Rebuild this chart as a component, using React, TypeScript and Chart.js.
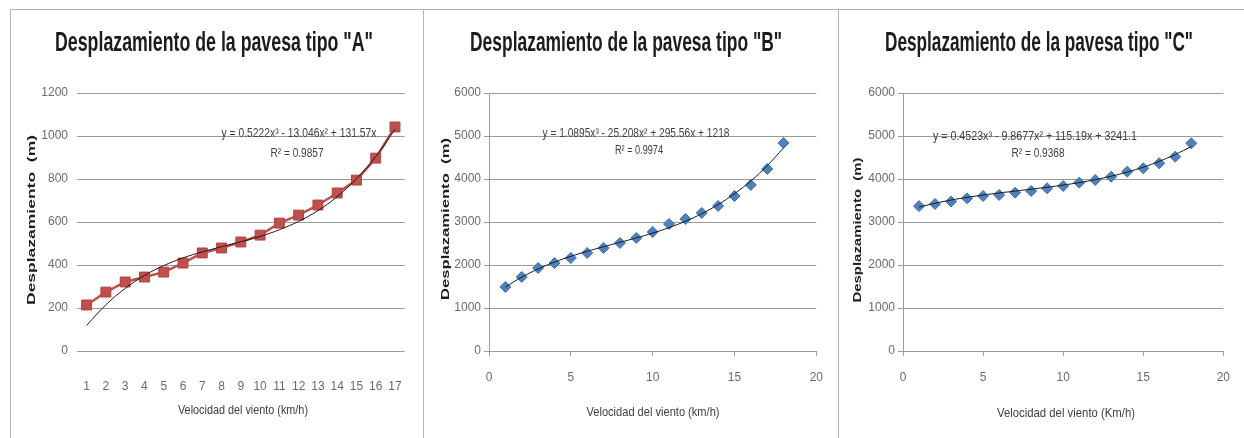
import React, { useEffect, useRef } from 'react';
import { Chart, registerables } from 'chart.js';

Chart.register(...registerables);

// ---------- data ----------
const titleA = 'Desplazamiento de la pavesa tipo "A"';
const titleB = 'Desplazamiento de la pavesa tipo "B"';
const titleC = 'Desplazamiento de la pavesa tipo "C"';
const yTitle = 'Desplazamiento  (m)';
const xTitleA = 'Velocidad del viento (km/h)';
const xTitleB = 'Velocidad del viento (km/h)';
const xTitleC = 'Velocidad del viento (Km/h)';

const eqA = 'y = 0.5222x³ - 13.046x² + 131.57x';
const r2A = 'R² = 0.9857';
const eqB = 'y = 1.0895x³ - 25.208x² + 295.56x + 1218';
const r2B = 'R² = 0.9974';
const eqC = 'y = 0.4523x³ - 9.8677x² + 115.19x + 3241.1';
const r2C = 'R² = 0.9368';

const speedsA = ['1', '2', '3', '4', '5', '6', '7', '8', '9', '10', '11', '12', '13', '14', '15', '16', '17'];
const dispA = [214, 274, 321, 344, 367, 409, 456, 479, 507, 539, 595, 632, 679, 735, 795, 897, 1042];
const trendA = [119, 215, 291, 351, 397, 433, 461, 485, 508, 533, 564, 603, 653, 718, 801, 904, 1032];

const speedsB = [1, 2, 3, 4, 5, 6, 7, 8, 9, 10, 11, 12, 13, 14, 15, 16, 17, 18];
const dispB = [1489, 1721, 1930, 2047, 2163, 2280, 2396, 2512, 2628, 2768, 2954, 3070, 3210, 3373, 3605, 3861, 4233, 4838];
const trendB = [1489, 1717, 1907, 2067, 2202, 2319, 2425, 2527, 2630, 2742, 2869, 3017, 3194, 3405, 3657, 3956, 4310, 4725];

const speedsC = [1, 2, 3, 4, 5, 6, 7, 8, 9, 10, 11, 12, 13, 14, 15, 16, 17, 18];
const dispC = [3370, 3420, 3475, 3550, 3605, 3630, 3683, 3720, 3783, 3837, 3915, 3977, 4054, 4171, 4249, 4365, 4520, 4830];
const trendC = [3347, 3436, 3510, 3573, 3627, 3675, 3719, 3763, 3808, 3859, 3916, 3984, 4065, 4161, 4275, 4411, 4570, 4755];

const yTicksA = { min: 0, max: 1200, step: 200 };
const yTicksBC = { min: 0, max: 6000, step: 1000 };
const xTicksBC = { min: 0, max: 20, step: 5 };

// ---------- styles ----------
const NARROW = "'Liberation Sans Narrow', 'Liberation Sans', sans-serif";
const gridColor = '#9a9a9a';
const tickColor = '#6a6a6a';
const tickFont = { family: NARROW, size: 12 };
const plain = (v: any) => String(v);

type TextItem = {
  text: string; x: number; y: number; font: string; color: string; width?: number; rotate?: boolean;
};

function overlay(items: TextItem[]) {
  return {
    id: 'overlayText',
    afterDraw(chart: any) {
      const ctx = chart.ctx as CanvasRenderingContext2D;
      for (const it of items) {
        ctx.save();
        ctx.font = it.font;
        ctx.fillStyle = it.color;
        ctx.textAlign = 'center';
        ctx.textBaseline = 'middle';
        ctx.translate(it.x, it.y);
        if (it.rotate) ctx.rotate(-Math.PI / 2);
        if (it.width) {
          const w = ctx.measureText(it.text).width;
          ctx.scale(it.width / w, 1);
        }
        ctx.fillText(it.text, 0, 0);
        ctx.restore();
      }
    },
  };
}

function panelTexts(p: {
  title: string; titleX: number; titleW: number;
  yx: number; yy: number; yw: number;
  xt: string; xtx: number; xty: number; xtw: number;
  eq: string; eqx: number; eqy: number; eqw: number;
  r2: string; r2x: number; r2y: number; r2w: number;
}): TextItem[] {
  return [
    { text: p.title, x: p.titleX, y: 34, font: `bold 27px 'Liberation Sans', sans-serif`, color: '#1c1c1c', width: p.titleW },
    { text: yTitle, x: p.yx, y: p.yy, font: `bold 11px 'Liberation Sans', sans-serif`, color: '#1e1e1e', width: p.yw, rotate: true },
    { text: p.xt, x: p.xtx, y: p.xty, font: `13px ${NARROW}`, color: '#404040', width: p.xtw },
    { text: p.eq, x: p.eqx, y: p.eqy, font: `13px ${NARROW}`, color: '#404040', width: p.eqw },
    { text: p.r2, x: p.r2x, y: p.r2y, font: `13px ${NARROW}`, color: '#404040', width: p.r2w },
  ];
}

function configA(): any {
  return {
    type: 'line',
    data: {
      labels: speedsA,
      datasets: [
        { data: trendA, borderColor: '#1a1a1a', borderWidth: 1, pointRadius: 0, tension: 0.4, fill: false },
        {
          data: dispA, borderColor: '#C0504D', borderWidth: 2.5, tension: 0,
          pointStyle: 'rect', pointRadius: 7, pointBackgroundColor: '#C0504D',
          pointBorderColor: '#B0403D', pointBorderWidth: 1,
        },
      ],
    },
    options: {
      animation: false, responsive: false,
      layout: { padding: { left: 0, right: 11, top: 83, bottom: 0 } },
      plugins: { legend: { display: false }, title: { display: false }, tooltip: { enabled: false } },
      scales: {
        x: {
          type: 'category', offset: true,
          grid: { display: false }, border: { display: false },
          ticks: { padding: 20, color: tickColor, font: tickFont, maxRotation: 0, autoSkip: false },
          afterFit: (s: any) => { s.height = 87; },
        },
        y: {
          min: yTicksA.min, max: yTicksA.max,
          ticks: { stepSize: yTicksA.step, padding: 9, color: tickColor, font: tickFont, callback: plain },
          grid: { color: gridColor, drawTicks: false },
          border: { display: false },
          afterFit: (s: any) => { s.width = 66; },
        },
      },
    },
    plugins: [overlay(panelTexts({
      title: titleA, titleX: 203, titleW: 318,
      yx: 21, yy: 210, yw: 170,
      xt: xTitleA, xtx: 232, xty: 400, xtw: 130,
      eq: eqA, eqx: 288, eqy: 123, eqw: 155,
      r2: r2A, r2x: 286, r2y: 143, r2w: 53,
    }))],
  };
}

function configBC(speeds: number[], disp: number[], trend: number[], yw: number, rightPad: number, texts: TextItem[]): any {
  return {
    type: 'scatter',
    data: {
      datasets: [
        {
          data: speeds.map((x, i) => ({ x, y: trend[i] })), showLine: true,
          borderColor: '#1a1a1a', borderWidth: 1, pointRadius: 0, tension: 0.4, fill: false,
        },
        {
          data: speeds.map((x, i) => ({ x, y: disp[i] })), showLine: false,
          pointStyle: 'rectRot', pointRadius: 5.5, pointBackgroundColor: '#4F81BD',
          pointBorderColor: '#3F6FA8', pointBorderWidth: 1,
        },
      ],
    },
    options: {
      animation: false, responsive: false,
      layout: { padding: { left: 0, right: rightPad, top: 83, bottom: 0 } },
      plugins: { legend: { display: false }, title: { display: false }, tooltip: { enabled: false } },
      scales: {
        x: {
          type: 'linear', min: xTicksBC.min, max: xTicksBC.max,
          ticks: { stepSize: xTicksBC.step, padding: 14, color: tickColor, font: tickFont, maxRotation: 0, callback: plain },
          grid: { drawOnChartArea: false, drawTicks: true, tickLength: 5, color: gridColor },
          border: { display: true, color: gridColor },
          afterFit: (s: any) => { s.height = 87; },
        },
        y: {
          min: yTicksBC.min, max: yTicksBC.max,
          ticks: { stepSize: yTicksBC.step, padding: 3, color: tickColor, font: tickFont, callback: plain },
          grid: { color: gridColor, tickLength: 5 },
          border: { display: true, color: gridColor },
          afterFit: (s: any) => { s.width = yw; },
        },
      },
    },
    plugins: [overlay(texts)],
  };
}

function ChartCanvas({ left, width, make }: { left: number; width: number; make: () => any }) {
  const ref = useRef<HTMLCanvasElement>(null);
  useEffect(() => {
    if (!ref.current) return;
    const chart = new Chart(ref.current, make());
    return () => chart.destroy();
  }, []);
  return (
    <canvas
      ref={ref}
      width={width}
      height={428}
      style={{ position: 'absolute', left, top: 10, width, height: 428 }}
    />
  );
}

export default function App() {
  const line = '#b4b4b4';
  return (
    <div style={{ position: 'absolute', left: 0, top: 0, width: 1244, height: 438, background: '#fff', overflow: 'hidden' }}>
      <div style={{ position: 'absolute', left: 10, top: 9, width: 1234, height: 1, background: line }} />
      <div style={{ position: 'absolute', left: 10, top: 9, width: 1, height: 429, background: line }} />
      <div style={{ position: 'absolute', left: 423, top: 9, width: 1, height: 429, background: line }} />
      <div style={{ position: 'absolute', left: 838, top: 9, width: 1, height: 429, background: line }} />
      <ChartCanvas left={11} width={411} make={configA} />
      <ChartCanvas
        left={424}
        width={413}
        make={() => configBC(speedsB, dispB, trendB, 65, 19, panelTexts({
          title: titleB, titleX: 202, titleW: 312,
          yx: 22, yy: 209, yw: 162,
          xt: xTitleB, xtx: 229, xty: 402, xtw: 133,
          eq: eqB, eqx: 212, eqy: 123, eqw: 187,
          r2: r2B, r2x: 215, r2y: 140, r2w: 48,
        }))}
      />
      <ChartCanvas
        left={839}
        width={405}
        make={() => configBC(speedsC, dispC, trendC, 64, 14, panelTexts({
          title: titleC, titleX: 200, titleW: 308,
          yx: 19, yy: 220, yw: 145,
          xt: xTitleC, xtx: 227, xty: 403, xtw: 138,
          eq: eqC, eqx: 196, eqy: 126, eqw: 204,
          r2: r2C, r2x: 199, r2y: 143, r2w: 53,
        }))}
      />
    </div>
  );
}
